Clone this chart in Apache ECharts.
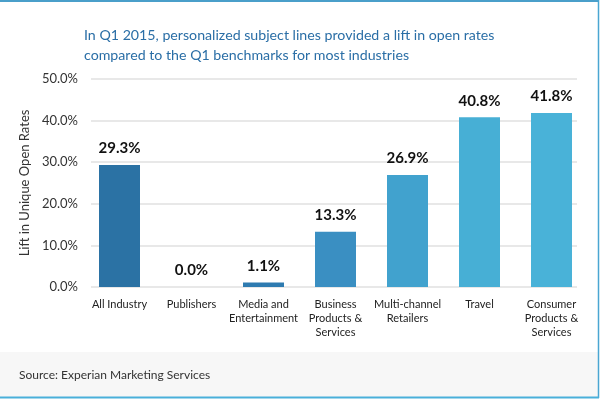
<!DOCTYPE html>
<html><head><meta charset="utf-8">
<script src="https://cdn.jsdelivr.net/npm/echarts@6/dist/echarts.min.js"></script>
<style>html,body{margin:0;padding:0;background:#fff}#c{width:600px;height:414px}</style>
</head><body><div id="c"></div>
<script>
var categories = ['All Industry','Publishers','Media and\nEntertainment','Business\nProducts &\nServices','Multi-channel\nRetailers','Travel','Consumer\nProducts &\nServices'];
var values = [29.3, 0.0, 1.1, 13.3, 26.9, 40.8, 41.8];
var barColors = ['#2b72a4','#2d77ab','#2e7bb0','#3a8fc2','#41a2ce','#47afd5','#49b2d8'];
var yTicks = [0, 10, 20, 30, 40, 50];
var titleText = 'In Q1 2015, personalized subject lines provided a lift in open rates\ncompared to the Q1 benchmarks for most industries';
var yName = 'Lift in Unique Open Rates';
var sourceText = 'Source: Experian Marketing Services';

var font = 'Lato';
var chart = echarts.init(document.getElementById('c'), null, {renderer:'canvas'});
chart.setOption({
  animation:false,
  backgroundColor:'#fff',
  graphic:[
    {type:'rect', shape:{x:0,y:352,width:598,height:46}, style:{fill:'#f7f7f7'}, z:-10},
    {type:'line', shape:{x1:0,y1:1,x2:599,y2:1}, style:{stroke:'#4a9fca',lineWidth:2}, z:10},
    {type:'line', shape:{x1:598.5,y1:0,x2:598.5,y2:398}, style:{stroke:'#4aa6d2',lineWidth:1.5}, z:10},
    {type:'line', shape:{x1:0,y1:397.5,x2:599,y2:397.5}, style:{stroke:'#4ab0da',lineWidth:2}, z:10},
    {type:'text', left:19, top:369, style:{text:sourceText, fill:'#333', font:'12px '+font}}
  ],
  title:{
    text:titleText, left:79, top:20,
    textStyle:{color:'#2a6ea6', fontFamily:font, fontSize:14.2, fontWeight:'normal', lineHeight:20}
  },
  grid:[
    {left:91, right:23, top:79, bottom:127},
    {left:83.5, right:12.5, top:79, bottom:127}
  ],
  xAxis:[
    {type:'category', gridIndex:0, data:categories, show:false},
    {type:'category', gridIndex:1, data:categories,
     axisLine:{show:false}, axisTick:{show:false},
     axisLabel:{interval:0, color:'#222', fontFamily:font, fontSize:11, lineHeight:14, margin:10}}
  ],
  yAxis:[
    {type:'value', gridIndex:0, min:0, max:50, interval:10,
     name:yName, nameLocation:'middle', nameGap:60, nameRotate:90,
     nameTextStyle:{color:'#333', fontFamily:font, fontSize:13},
     axisLine:{show:false}, axisTick:{show:false},
     axisLabel:{color:'#333', fontFamily:font, fontSize:13, margin:13,
       formatter:function(v){return yTicks.indexOf(v)>=0 ? v.toFixed(1)+'%' : '';}},
     splitLine:{lineStyle:{color:'#e8e8e8', width:2}}},
    {type:'value', gridIndex:1, min:0, max:50, interval:10, show:false, splitLine:{show:false}}
  ],
  series:[{
    type:'bar', xAxisIndex:1, yAxisIndex:1, barWidth:41,
    data: values.map(function(v,i){return {value:v, itemStyle:{color:barColors[i]}};}),
    label:{show:true, position:'top', distance:9, color:'#111', fontFamily:font, fontSize:15, fontWeight:'bold',
      formatter:function(p){return p.value.toFixed(1)+'%';}}
  }]
});
</script></body></html>
